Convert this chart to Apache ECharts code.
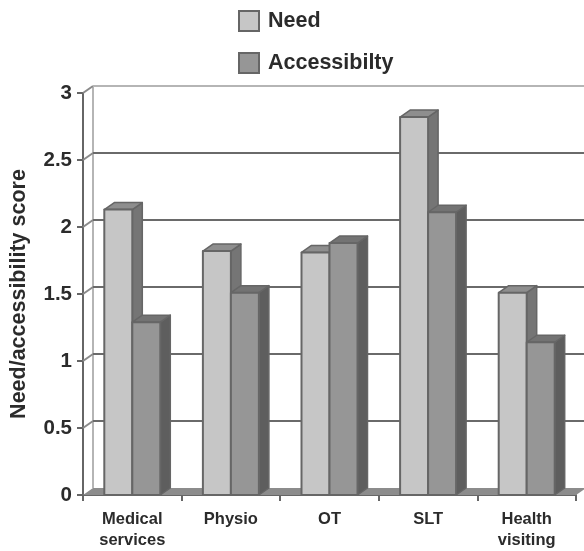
<!DOCTYPE html>
<html>
<head>
<meta charset="utf-8">
<style>
    html, body { margin: 0; padding: 0; background: #fff; }
    #chart { width: 584px; height: 551px; }
</style>
<script src="https://cdn.jsdelivr.net/npm/echarts@6/dist/echarts.min.js"></script>
</head>
<body>
<div id="chart"></div>
<script>
const categories = ['Medical\nservices', 'Physio', 'OT', 'SLT', 'Health\nvisiting'];
const need = [2.13, 1.82, 1.81, 2.82, 1.51];
const accessibility = [1.29, 1.51, 1.88, 2.11, 1.14];
const yTicks = [0, 0.5, 1, 1.5, 2, 2.5, 3];

// 3d look: everything behind the front plane is shifted by this much
const DX = 10;
const DY = -7;
const BAR_W = 28;
const FONT = '"Liberation Sans", Arial, sans-serif';
const TEXT = '#2b2b2b';

const line = (x1, y1, x2, y2, stroke) => ({
    type: 'line',
    shape: { x1, y1, x2, y2 },
    style: { stroke, lineWidth: 2 }
});

const poly = (points, fill, width) => ({
    type: 'polygon',
    shape: { points },
    style: { fill, stroke: '#666', lineWidth: width, lineJoin: 'round' }
});

// back wall gridlines, the connectors to the axis ticks and the floor
const renderWall = (params, api) => {
    const sys = params.coordSys;
    const v = api.value(1);
    const y = api.coord([0, v])[1];
    const left = sys.x;
    const right = sys.x + sys.width;
    if (v === 0) {
        return {
            type: 'group',
            children: [
                line(left + DX, sys.y + DY, left + DX, y + DY, '#b5b5b5'),
                poly([[left, y], [right, y], [right + DX, y + DY], [left + DX, y + DY]], '#8c8c8c', 0)
            ]
        };
    }
    const top = v === yTicks[yTicks.length - 1];
    const color = top ? '#b5b5b5' : '#6a6a6a';
    return {
        type: 'group',
        children: [
            line(left, y, left + DX, y + DY, '#8a8a8a'),
            line(left + DX, y + DY, right + DX, y + DY, color)
        ]
    };
};

const renderBar = (offset, front, topFace, side) => (params, api) => {
    const [cx, y] = api.coord([api.value(0), api.value(1)]);
    const base = api.coord([api.value(0), 0])[1];
    const x1 = cx + offset;
    const x2 = x1 + BAR_W;
    return {
        type: 'group',
        children: [
            poly([[x2, y], [x2 + DX, y + DY], [x2 + DX, base + DY], [x2, base]], side, 1.5),
            poly([[x1, y], [x1 + DX, y + DY], [x2 + DX, y + DY], [x2, y]], topFace, 1.5),
            poly([[x1, y], [x2, y], [x2, base], [x1, base]], front, 2)
        ]
    };
};

const chart = echarts.init(document.getElementById('chart'));
chart.setOption({
    animation: false,
    backgroundColor: '#fff',
    textStyle: { fontFamily: FONT },
    legend: {
        orient: 'vertical',
        left: 238,
        top: 10,
        padding: 0,
        itemWidth: 20,
        itemHeight: 20,
        itemGap: 20,
        icon: 'rect',
        selectedMode: false,
        textStyle: {
            fontFamily: FONT,
            fontSize: 21.5,
            fontWeight: 'bold',
            lineHeight: 20,
            color: TEXT,
            padding: [0, 0, 0, 4]
        },
        data: ['Need', 'Accessibilty']
    },
    grid: { left: 83, top: 93, width: 493, height: 405 },
    xAxis: {
        type: 'category',
        data: categories,
        axisLine: { lineStyle: { color: '#666', width: 2 } },
        axisTick: { show: true, length: 6, lineStyle: { color: '#666', width: 2 } },
        axisLabel: {
            interval: 0,
            margin: 14,
            fontFamily: FONT,
            fontSize: 16.5,
            fontWeight: 'bold',
            lineHeight: 21,
            color: TEXT
        }
    },
    yAxis: {
        type: 'value',
        min: 0,
        max: 3,
        interval: 0.5,
        name: 'Need/accessibility score',
        nameLocation: 'middle',
        nameGap: 53,
        nameTextStyle: { fontFamily: FONT, fontSize: 21.5, fontWeight: 'bold', color: TEXT },
        axisLine: { show: true, lineStyle: { color: '#666', width: 2 } },
        axisTick: { show: true, length: 6, lineStyle: { color: '#666', width: 2 } },
        axisLabel: {
            margin: 11,
            fontFamily: FONT,
            fontSize: 20.5,
            fontWeight: 'bold',
            color: TEXT,
            verticalAlignMinLabel: 'middle',
            verticalAlignMaxLabel: 'middle',
            formatter: (v) => String(v)
        },
        splitLine: { show: false }
    },
    series: [
        {
            name: 'wall',
            type: 'custom',
            renderItem: renderWall,
            data: yTicks.map((v) => [0, v]),
            silent: true,
            z: 1
        },
        {
            name: 'Need',
            type: 'custom',
            renderItem: renderBar(-BAR_W, '#c6c6c6', '#8e8e8e', '#757575'),
            itemStyle: { color: '#c6c6c6', borderColor: '#666', borderWidth: 2 },
            data: need.map((v, i) => [i, v]),
            z: 2
        },
        {
            name: 'Accessibilty',
            type: 'custom',
            renderItem: renderBar(0, '#969696', '#737373', '#5e5e5e'),
            itemStyle: { color: '#969696', borderColor: '#666', borderWidth: 2 },
            data: accessibility.map((v, i) => [i, v]),
            z: 3
        }
    ]
});
</script>
</body>
</html>
